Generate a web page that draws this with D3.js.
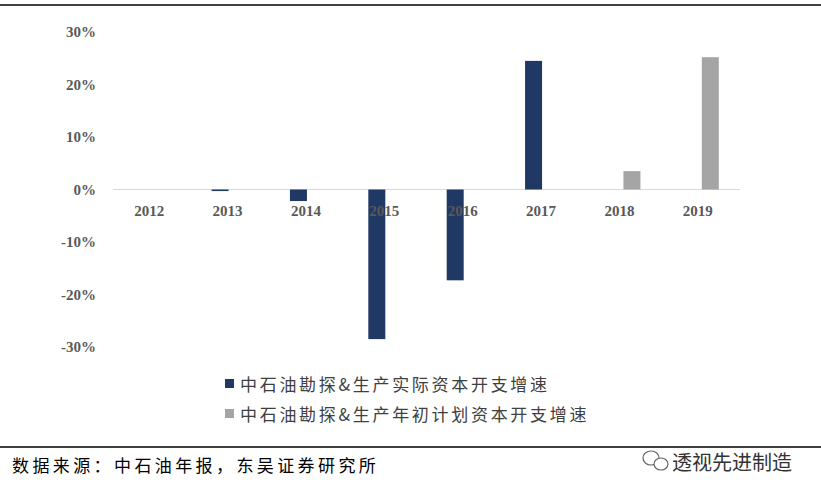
<!DOCTYPE html>
<html><head><meta charset="utf-8">
<script src="https://cdn.jsdelivr.net/npm/d3@7"></script>
<style>body{margin:0;background:#fff}</style>
</head><body>
<svg id="chart" width="821" height="497"></svg>
<script>
// data
const years = ['2012','2013','2014','2015','2016','2017','2018','2019'];
const actual = [0, -0.3, -2.2, -28.5, -17.3, 24.5, null, null];
const planned = [null, null, null, null, null, null, 3.5, 25.2];
const yTicks = [30, 20, 10, 0, -10, -20, -30];
const seriesNames = ['中石油勘探&生产实际资本开支增速', '中石油勘探&生产年初计划资本开支增速'];
const colors = ['#203864', '#a5a5a5'];

const svg = d3.select('#chart');
const x = d3.scaleBand().domain(years).range([113, 740]);
const y = d3.scaleLinear().domain([-30, 30]).range([347, 32]);
const bw = 17;

svg.append('line').attr('x1', 0).attr('x2', 821).attr('y1', 5).attr('y2', 5).attr('stroke', '#000').attr('stroke-width', 1.5);
svg.append('line').attr('x1', 0).attr('x2', 821).attr('y1', 447).attr('y2', 447).attr('stroke', '#000').attr('stroke-width', 1.5);

svg.selectAll('.yt').data(yTicks).enter().append('text')
  .attr('x', 96).attr('y', d => y(d) + 5).attr('text-anchor', 'end')
  .attr('font-family', 'Liberation Serif').attr('font-weight', 'bold').attr('font-size', 15)
  .attr('fill', '#595959').text(d => d + '%');

svg.append('line').attr('x1', 113).attr('x2', 740).attr('y1', y(0)).attr('y2', y(0)).attr('stroke', '#d9d9d9');

function bars(vals, color, off) {
  svg.selectAll(null).data(vals.map((v, i) => ({v, yr: years[i]})).filter(d => d.v !== null)).enter()
    .append('rect')
    .attr('x', d => x(d.yr) + x.bandwidth() / 2 + off)
    .attr('width', bw)
    .attr('y', d => Math.min(y(d.v), y(0)))
    .attr('height', d => Math.max(Math.abs(y(d.v) - y(0)), d.v !== 0 ? 1 : 0))
    .attr('fill', color);
}
bars(actual, colors[0], -bw - 2);
bars(planned, colors[1], 1);

svg.selectAll('.xt').data(years).enter().append('text')
  .attr('x', d => x(d) + x.bandwidth() / 2 - 3).attr('y', 216).attr('text-anchor', 'middle')
  .attr('font-family', 'Liberation Serif').attr('font-weight', 'bold').attr('font-size', 15)
  .attr('fill', '#595959').text(d => d);

seriesNames.forEach((n, i) => {
  const ly = 385 + i * 30;
  svg.append('rect').attr('x', 225).attr('y', ly - 6).attr('width', 9).attr('height', 9).attr('fill', colors[i]);
  svg.append('text').attr('x', 240).attr('y', ly + 6).attr('font-family', 'Noto Sans CJK SC')
    .attr('font-size', 17).attr('fill', '#404040').attr('letter-spacing', 2.7).text(n);
});

svg.append('text').attr('x', 12).attr('y', 472).attr('font-family', 'Noto Sans CJK SC')
  .attr('font-size', 17).attr('fill', '#000').attr('letter-spacing', 3.4).text('数据来源：中石油年报，东吴证券研究所');

svg.append('text').attr('x', 672).attr('y', 470).attr('font-family', 'Noto Sans CJK SC')
  .attr('font-size', 20).attr('fill', '#333').text('透视先进制造');
const g = svg.append('g').attr('transform', 'translate(653,460)').attr('fill', 'none').attr('stroke', '#666').attr('stroke-width', 1.2);
g.append('ellipse').attr('cx', -2).attr('cy', -2).attr('rx', 8).attr('ry', 7);
g.append('ellipse').attr('cx', 8).attr('cy', 4).attr('rx', 7).attr('ry', 6).attr('fill', '#fff');
</script>
</body></html>
